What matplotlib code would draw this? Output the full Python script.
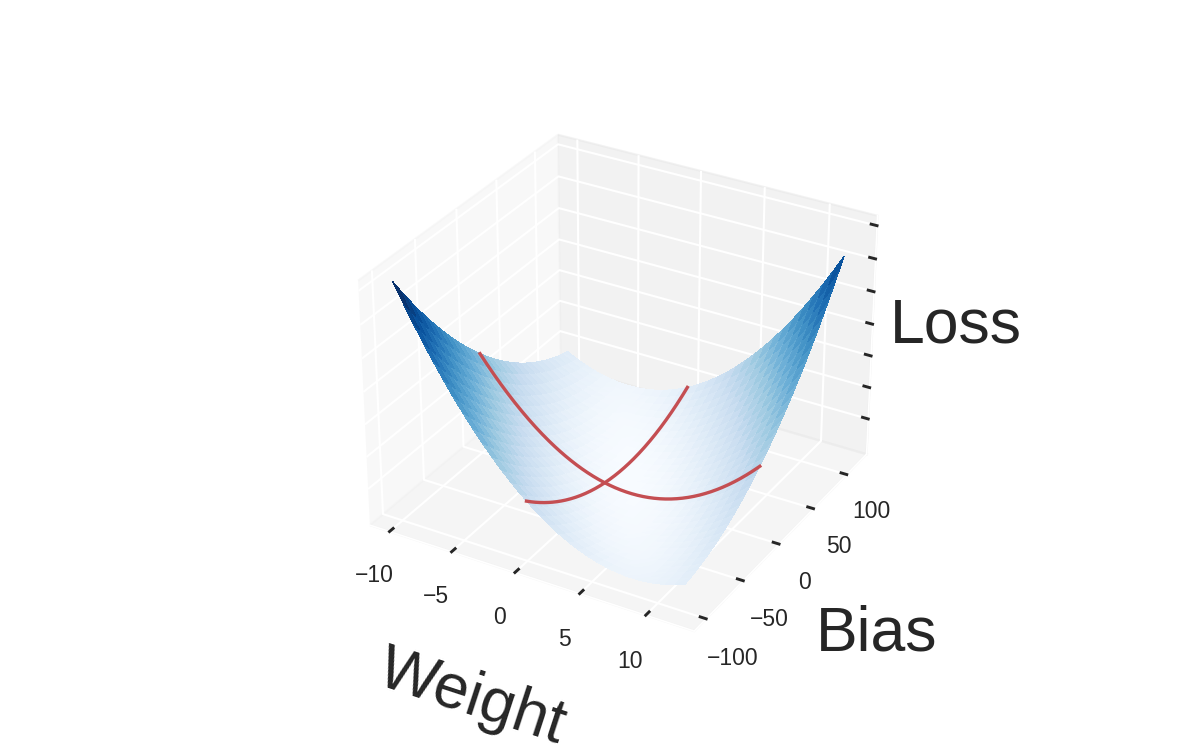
import numpy as np
import matplotlib.pyplot as plt
import matplotlib.tri as mtri

# noisy regression data the loss surface is built from
x_data = [2, 4, 7, 10, 14, 17, 20, 24]
y_data = [89.2, -43.4, -41.4, 94.7, 97.5, -34.5, -32.4, 104.3]

# the two red cross-sections: loss along weight at bias=0, along bias at weight=0
w_cut = 0.0
b_cut = 0.0

# grid of the surface
w_lims = (-10, 12)
b_lims = (-100, 115)
n_grid = 31

# loss ticks (labels are hidden in the figure)
z_ticks = [14200, 24000, 33800, 43500, 53300, 63100, 72900]

plt.rcParams['font.family'] = ['Liberation Sans', 'DejaVu Sans']
plt.rcParams['text.color'] = '.15'
plt.rcParams['axes.labelcolor'] = '.15'
plt.rcParams['axes.edgecolor'] = 'white'
plt.rcParams['xtick.color'] = '.15'
plt.rcParams['ytick.color'] = '.15'
plt.rcParams['xtick.labelsize'] = 11
plt.rcParams['ytick.labelsize'] = 11
plt.rcParams['grid.color'] = 'white'
plt.rcParams['grid.linewidth'] = 1.0


def mse(w, b):
    x = np.array(x_data)
    y = np.array(y_data)
    pred = np.asarray(b)[..., None] + np.asarray(w)[..., None] * x
    return ((pred - y) ** 2).mean(axis=-1)


def grid_triangles(n):
    # split every cell of an n x n grid into two triangles
    i, j = np.meshgrid(np.arange(n - 1), np.arange(n - 1), indexing='ij')
    a = (i * n + j).ravel()
    b = a + 1
    c = a + n
    d = c + 1
    return np.concatenate([np.stack([a, b, d], 1), np.stack([a, d, c], 1)])


def main():
    w_range = np.linspace(w_lims[0], w_lims[1], n_grid)
    b_range = np.linspace(b_lims[0], b_lims[1], n_grid)
    W, B = np.meshgrid(w_range, b_range)
    loss = mse(W, B)

    fig = plt.figure(figsize=(8, 5), dpi=150)
    ax = fig.add_subplot(projection='3d')
    ax.computed_zorder = False

    tri = mtri.Triangulation(W.ravel(), B.ravel(), grid_triangles(n_grid))
    ax.plot_trisurf(tri, loss.ravel(), cmap='Blues', linewidth=0,
                    antialiased=False)

    red = '#C44E52'
    w_fine = np.linspace(w_lims[0], w_lims[1], 200)
    b_fine = np.linspace(b_lims[0], b_lims[1], 200)
    ax.plot(w_fine, np.full_like(w_fine, b_cut), mse(w_fine, b_cut),
            color=red, lw=1.6, zorder=3)
    ax.plot(np.full_like(b_fine, w_cut), b_fine, mse(w_cut, b_fine),
            color=red, lw=1.6, zorder=3)

    for axis in (ax.xaxis, ax.yaxis, ax.zaxis):
        axis._axinfo['tick']['inward_factor'] = 0.0
        axis._axinfo['tick']['outward_factor'] = 0.22
        axis._axinfo['tick']['linewidth'] = {True: 1.4, False: 1.0}

    ax.set_xlabel('Weight', fontsize=30, labelpad=20)
    ax.set_ylabel('Bias', fontsize=30, labelpad=20)
    ax.set_zlabel('Loss', fontsize=30, labelpad=4)
    ax.set_zticks(z_ticks)
    ax.set_zticklabels([])

    fig.savefig('out.png', dpi=150)


if __name__ == '__main__':
    main()
